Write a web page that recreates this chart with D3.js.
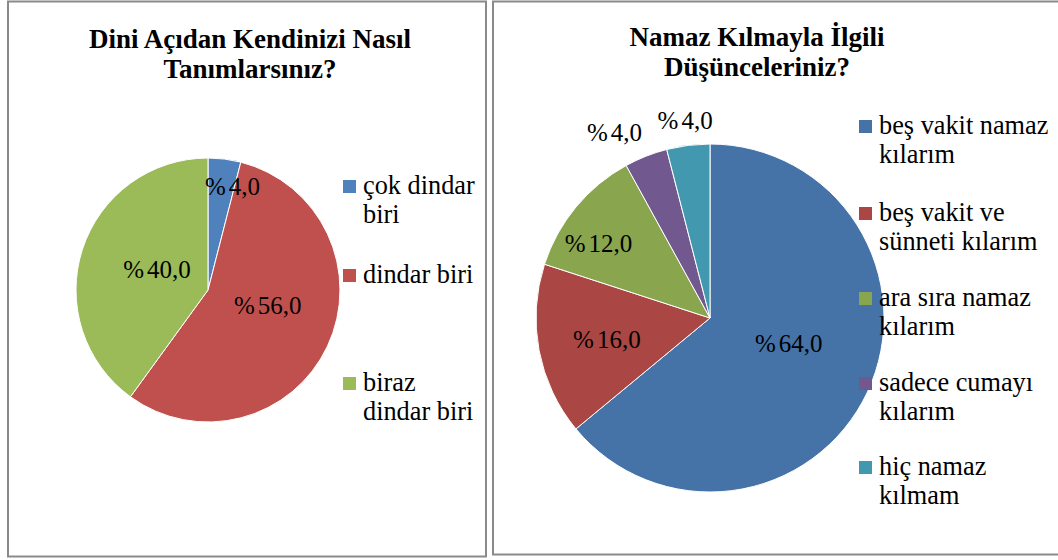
<!DOCTYPE html>
<html><head><meta charset="utf-8">
<script src="https://cdn.jsdelivr.net/npm/d3@7"></script>
<style>
html,body{margin:0;padding:0;background:#fff;}
text{font-family:"Liberation Serif","Times New Roman",serif;fill:#000;}
</style></head>
<body>
<svg id="c" width="1058" height="560"></svg>
<script>
// Chart 1
const cat1 = ["çok dindar biri", "dindar biri", "biraz dindar biri"];
const val1 = [4.0, 56.0, 40.0];
const col1 = ["#4F81BD", "#C0504D", "#9BBB59"];
const leg1 = [["çok dindar", "biri"], ["dindar biri"], ["biraz", "dindar biri"]];
const title1 = ["Dini Açıdan Kendinizi Nasıl", "Tanımlarsınız?"];

// Chart 2
const cat2 = ["beş vakit namaz kılarım", "beş vakit ve sünneti kılarım", "ara sıra namaz kılarım", "sadece cumayı kılarım", "hiç namaz kılmam"];
const val2 = [64.0, 16.0, 12.0, 4.0, 4.0];
const col2 = ["#4572A7", "#AA4643", "#89A54E", "#71588F", "#4198AF"];
const leg2 = [["beş vakit namaz", "kılarım"], ["beş vakit ve", "sünneti kılarım"], ["ara sıra namaz", "kılarım"], ["sadece cumayı", "kılarım"], ["hiç namaz", "kılmam"]];
const title2 = ["Namaz Kılmayla İlgili", "Düşünceleriniz?"];

const svg = d3.select("#c");
const fmtNum = v => d3.format(".1f")(v).replace(".", ",");

// panel borders
svg.append("rect").attr("x", 8).attr("y", 1.5).attr("width", 478).attr("height", 555)
  .attr("fill", "none").attr("stroke", "#8a8a8a").attr("stroke-width", 2);
svg.append("rect").attr("x", 493).attr("y", 1.5).attr("width", 580).attr("height", 553)
  .attr("fill", "none").attr("stroke", "#8a8a8a").attr("stroke-width", 2);

function drawPie(cfg) {
  const g = svg.append("g").attr("transform", `translate(${cfg.cx},${cfg.cy})`);
  const pie = d3.pie().sort(null).value(d => d)(cfg.values);
  const arc = d3.arc().innerRadius(0).outerRadius(cfg.r);
  g.selectAll("path").data(pie).join("path")
    .attr("d", arc).attr("fill", (d, i) => cfg.colors[i])
    .attr("stroke", "#fff").attr("stroke-width", 1);
  const lbl = g.selectAll("text.lbl").data(pie).join("text").attr("class", "lbl")
    .attr("transform", (d, i) => {
      const a = (d.startAngle + d.endAngle) / 2;
      const rr = cfg.labelR[i] * cfg.r;
      return `translate(${Math.sin(a) * rr + cfg.labelDx[i]},${-Math.cos(a) * rr + cfg.labelDy[i]})`;
    })
    .attr("text-anchor", "middle").attr("dy", "0.35em")
    .style("font-size", "25px");
  lbl.append("tspan").text("%");
  lbl.append("tspan").attr("dx", 3).text(d => fmtNum(d.data));
  // title
  const t = svg.append("text").attr("text-anchor", "middle")
    .style("font-size", "27px").style("font-weight", "bold");
  cfg.title.forEach((s, i) => t.append("tspan").attr("x", cfg.tx).attr("y", cfg.ty + i * 30).text(s));
  // legend
  const lg = svg.append("g");
  cfg.legend.forEach((lines, i) => {
    const y0 = cfg.ly[i];
    lg.append("rect").attr("x", cfg.lx).attr("y", y0 - 14).attr("width", 13).attr("height", 13)
      .attr("fill", cfg.colors[i]);
    const tt = lg.append("text").style("font-size", "26.3px");
    lines.forEach((s, j) => tt.append("tspan").attr("x", cfg.lx + 20).attr("y", y0 + j * 29).text(s));
  });
}

drawPie({
  cx: 208, cy: 290, r: 132, values: val1, colors: col1,
  labelR: [0.82, 0.45, 0.55], labelDx: [11, 6, 18], labelDy: [4, -10, 2],
  title: title1, tx: 250, ty: 48,
  legend: leg1, lx: 343, ly: [194, 283, 391]
});

drawPie({
  cx: 710, cy: 318, r: 174, values: val2, colors: col2,
  labelR: [0.5, 0.65, 0.72, 1.1, 1.14], labelDx: [0, 8, -15, -25, 0], labelDy: [-12, 0, 5, -8, -1],
  title: title2, tx: 757, ty: 46,
  legend: leg2, lx: 859, ly: [134, 221, 306, 391, 475]
});
</script>
</body></html>
